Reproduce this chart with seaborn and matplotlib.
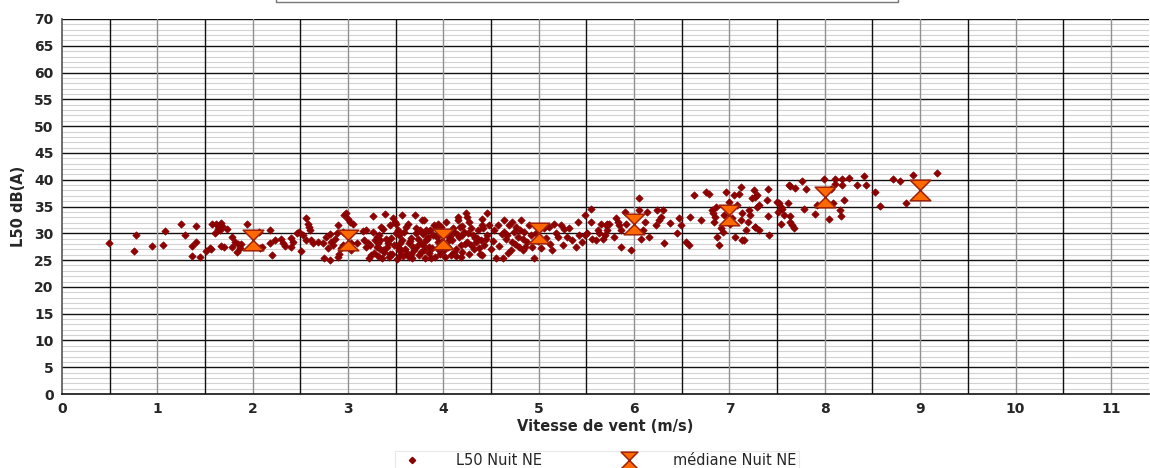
import numpy as np
import pandas as pd
import matplotlib
matplotlib.use("Agg")
import matplotlib.pyplot as plt
from matplotlib.path import Path
from matplotlib.patches import Rectangle
from matplotlib.lines import Line2D
import seaborn as sns

# ---- data: individual L50 measurements (wind speed m/s, L50 dB(A)) ----
wind_a = [0.49, 0.76, 0.78, 0.94, 1.06, 1.08, 1.25, 1.29, 1.41, 1.36, 1.41, 1.36, 1.45, 1.51, 1.55, 1.56,
          1.57, 1.61, 1.67, 1.60, 1.64, 1.66, 1.68, 1.73, 1.65, 1.67, 1.70, 1.78, 1.78, 1.81, 1.84, 1.85,
          1.88, 1.87, 1.94, 2.08]
l50_a = [28.1, 26.7, 29.7, 27.6, 27.8, 30.4, 31.8, 29.6, 31.4, 27.6, 28.3, 25.7, 25.6, 26.7, 27.3, 27.0,
         31.8, 31.8, 32.0, 30.0, 30.8, 30.6, 31.3, 30.8, 31.2, 27.7, 27.5, 29.4, 27.4, 28.4, 26.6, 28.0,
         28.0, 27.3, 31.8, 27.3]

wind_b = [2.07, 2.10, 2.18, 2.20, 2.18, 2.23, 2.30, 2.32, 2.34, 2.40, 2.40, 2.42, 2.46, 2.49, 2.51, 2.53,
          2.56, 2.58, 2.59, 2.56, 2.60, 2.61, 2.63, 2.68, 2.74, 2.75, 2.77, 2.79, 2.81, 2.81, 2.82, 2.84,
          2.86, 2.88, 2.89, 2.89, 2.91, 2.93, 2.95, 2.95, 2.96, 2.98, 3.00, 3.02, 3.05, 3.03, 3.03, 3.09,
          3.16, 3.19, 3.17, 3.21, 3.23, 3.19, 3.24, 3.26, 3.28, 3.30, 3.30, 3.31, 3.33, 3.35, 3.37, 3.39,
          3.40, 3.42, 3.44, 3.44, 3.47, 3.49, 3.50, 3.52, 3.50, 3.52, 3.54, 3.56, 3.57, 3.57, 3.61, 3.63,
          3.64, 3.64, 3.66, 3.68, 3.70, 3.71, 3.73, 3.75, 3.77, 3.78, 3.80, 3.82, 3.84]
l50_b = [30.2, 27.5, 30.6, 25.9, 28.1, 28.7, 29.0, 28.1, 27.7, 29.2, 27.5, 28.4, 30.0, 30.3, 26.7, 29.7,
         32.8, 31.8, 31.1, 28.7, 30.6, 28.7, 28.2, 28.4, 28.1, 25.3, 29.3, 27.2, 29.8, 25.0, 28.4, 27.8,
         29.0, 30.0, 31.5, 25.6, 26.2, 27.2, 30.3, 27.8, 33.4, 33.7, 32.6, 32.1, 31.8, 28.1, 26.9, 28.1,
         30.5, 30.6, 28.7, 28.1, 27.8, 27.5, 25.9, 33.2, 28.7, 29.4, 27.5, 28.1, 28.7, 31.2, 26.9, 33.6,
         29.0, 28.1, 26.2, 31.5, 32.8, 32.1, 31.8, 30.7, 30.0, 27.5, 25.9, 26.9, 28.7, 33.4, 31.2, 31.8,
         28.1, 25.6, 26.2, 27.5, 33.4, 30.0, 29.0, 30.6, 28.1, 32.5, 26.9, 28.7, 29.4]

wind_c = [3.22, 3.27, 3.31, 3.34, 3.36, 3.38, 3.41, 3.43, 3.46, 3.48, 3.51, 3.53, 3.55, 3.58, 3.60, 3.62,
          3.65, 3.67, 3.69, 3.72, 3.74, 3.76, 3.79, 3.81, 3.85, 3.88, 3.91, 3.95, 3.98, 4.02, 4.05, 4.09,
          4.13, 4.16, 4.20, 4.23, 4.27, 4.33, 4.37, 4.41, 3.26, 3.32, 3.37, 3.45, 3.53, 3.59, 3.66, 3.71,
          3.79, 3.86, 3.93, 4.00, 4.07, 4.14, 4.19, 4.26, 4.35, 4.40]
l50_c = [25.4, 26.4, 25.8, 27.0, 25.3, 26.6, 27.4, 25.6, 26.1, 27.9, 25.2, 26.8, 28.2, 25.7, 27.1, 26.4,
         28.5, 25.3, 26.9, 27.6, 25.9, 26.6, 27.9, 25.4, 26.3, 27.2, 25.6, 26.9, 28.3, 25.6, 27.4, 28.8,
         25.8, 29.3, 26.6, 28.0, 26.2, 29.1, 27.3, 25.9, 30.2, 29.6, 30.8, 29.2, 29.7, 30.3, 29.1, 31.0,
         29.8, 30.7, 29.3, 30.1, 29.5, 29.9, 31.3, 30.1, 29.2, 31.6]

wind_d = [3.80, 3.82, 3.83, 3.85, 3.87, 3.89, 3.90, 3.92, 3.94, 3.96, 3.97, 3.94, 3.96, 3.99, 4.01, 4.03,
          4.04, 4.06, 4.08, 4.10, 4.11, 4.11, 4.13, 4.15, 4.15, 4.17, 4.18, 4.18, 4.20, 4.22, 4.24, 4.25,
          4.25, 4.27, 4.29, 4.29, 4.31, 4.32, 4.34, 4.36, 4.38, 4.39, 4.41, 4.42, 4.43, 4.45, 4.46, 4.46,
          4.48, 4.50, 4.53, 4.55, 4.57, 4.62, 4.64, 4.64, 4.66, 4.67, 4.69, 4.71, 4.72, 4.72, 4.74, 4.76,
          4.78, 4.79, 4.81, 4.83, 4.85, 4.86, 4.88, 4.92, 4.93, 4.95, 4.97, 5.06, 5.11, 5.14, 5.16, 5.20,
          5.23, 5.25, 5.30, 5.32, 5.39, 5.41, 5.42, 5.48, 5.49, 5.51, 5.55, 5.56,
          4.52, 4.58, 4.61, 4.68, 4.75, 4.80, 4.84, 4.90, 4.99, 5.02, 5.08, 5.12, 5.18, 5.26, 5.35, 5.45]
l50_d = [32.4, 30.6, 29.0, 27.5, 25.3, 29.6, 31.5, 30.9, 31.8, 30.3, 31.2, 28.4, 26.2, 27.8, 26.8, 32.1,
         29.6, 28.7, 25.9, 30.9, 30.3, 26.5, 27.1, 33.1, 32.4, 31.2, 27.8, 25.6, 29.6, 30.3, 33.7, 33.1,
         28.4, 32.1, 27.8, 30.9, 29.6, 27.1, 28.4, 30.6, 26.2, 28.7, 32.7, 30.9, 27.8, 29.0, 33.7, 29.6,
         31.5, 27.1, 30.6, 25.3, 31.5, 25.3, 32.4, 30.3, 29.0, 29.6, 31.5, 26.8, 32.1, 28.4, 30.3, 31.2,
         29.3, 27.5, 32.4, 29.0, 30.3, 27.5, 28.4, 29.6, 27.5, 25.3, 30.0, 30.9, 31.2, 26.8, 31.8, 29.3,
         31.5, 27.8, 29.3, 30.9, 27.5, 32.1, 29.6, 33.4, 29.6, 30.0, 34.6, 29.0,
         28.6, 27.7, 29.9, 26.3, 28.0, 30.6, 26.9, 31.6, 28.6, 27.3, 29.1, 28.0, 30.1, 30.8, 28.7, 28.3]

wind_e = [5.55, 5.60, 5.62, 5.63, 5.65, 5.67, 5.69, 5.70, 5.72, 5.72, 5.74, 5.79, 5.81, 5.83, 5.84, 5.86,
          5.86, 5.90, 5.91, 5.97, 5.98, 6.05, 6.05, 6.07, 6.09, 6.11, 6.14, 6.16, 6.23, 6.24, 6.26, 6.28,
          6.30, 6.31, 6.38, 6.45, 6.47, 6.49, 6.54, 6.58, 6.59, 6.63, 6.70, 6.75, 6.79, 6.82, 6.83, 6.84,
          6.85, 6.86, 6.87, 6.89, 6.91, 6.93, 6.94, 6.96, 6.99, 7.01, 7.03, 7.05, 7.06, 7.08, 7.10, 7.12,
          7.12, 7.13, 7.13, 7.15, 7.17, 7.19, 7.20, 7.22, 7.24, 7.26, 7.27, 7.29]
l50_e = [32.2, 28.7, 30.6, 30.0, 31.8, 29.0, 29.7, 31.5, 31.8, 30.6, 31.8, 29.4, 32.8, 32.2, 31.5, 30.6,
         27.5, 34.0, 31.8, 26.9, 32.8, 36.5, 34.3, 29.0, 30.6, 32.2, 34.0, 29.4, 31.5, 34.3, 32.5, 33.1,
         34.3, 28.1, 32.0, 30.0, 32.8, 31.5, 28.4, 27.8, 33.1, 37.1, 32.5, 37.8, 37.4, 34.3, 33.7, 32.2,
         33.1, 35.0, 29.4, 27.8, 30.9, 30.3, 33.4, 37.8, 35.9, 31.8, 32.8, 37.1, 29.4, 35.3, 37.4, 38.7,
         32.5, 33.7, 28.7, 28.7, 30.6, 32.2, 34.3, 33.4, 36.5, 38.1, 31.2, 35.0]

wind_f = [7.27, 7.29, 7.31, 7.27, 7.31, 7.40, 7.39, 7.40, 7.41, 7.50, 7.51, 7.52, 7.54, 7.55, 7.54, 7.57,
          7.61, 7.62, 7.64, 7.64, 7.64, 7.66, 7.68, 7.69, 7.76, 7.78, 7.80, 7.90, 7.92, 7.99, 8.04, 8.06,
          8.09, 8.11, 8.11, 8.16, 8.17, 8.18, 8.18, 8.20, 8.25, 8.34, 8.41, 8.43, 8.53, 8.58, 8.71, 8.79,
          8.85, 8.93, 9.18]
l50_f = [36.8, 37.1, 35.3, 31.2, 30.6, 38.2, 36.3, 33.2, 29.7, 35.9, 34.0, 35.6, 35.0, 34.5, 31.8, 33.4,
         35.7, 39.0, 38.8, 33.2, 32.2, 31.5, 30.9, 38.4, 39.8, 34.6, 38.2, 33.6, 35.3, 40.2, 32.6, 38.2,
         35.7, 40.1, 39.2, 34.3, 33.2, 40.2, 39.0, 36.2, 40.4, 39.0, 40.7, 39.0, 37.8, 35.1, 40.1, 39.7,
         35.6, 40.9, 41.3]

# ---- medians per wind speed bin ----
median_wind = [2, 3, 4, 5, 6, 7, 8, 9]
median_l50 = [28.7, 28.7, 29.0, 30.0, 31.7, 33.4, 36.8, 38.1]

x_ticks = list(range(0, 12))
y_ticks = list(range(0, 75, 5))

points = pd.DataFrame({
    "wind": wind_a + wind_b + wind_c + wind_d + wind_e + wind_f,
    "l50": l50_a + l50_b + l50_c + l50_d + l50_e + l50_f,
})
medians = pd.DataFrame({"wind": median_wind, "l50": median_l50})

sns.set_style("white")
plt.rcParams["font.family"] = ["DejaVu Sans"]

fig = plt.figure(figsize=(11.5, 4.68), dpi=100)
ax = fig.add_axes([62 / 1150, 1 - 394 / 468, (1149 - 62) / 1150, (394 - 19) / 468])

# grid
for v in np.arange(0, 71, 1):
    if v % 5 != 0:
        ax.axhline(v, color="#d2d2d2", lw=0.8, zorder=0)
for v in range(5, 71, 5):
    ax.axhline(v, color="#111111", lw=1.0, zorder=0.5)
for v in range(1, 12):
    ax.axvline(v, color="#909090", lw=1.0, zorder=0.6)
for v in np.arange(0.5, 11.5, 1.0):
    ax.axvline(v, color="#111111", lw=1.0, zorder=0.7)

hourglass = Path([(-1, 1), (1, 1), (-1, -1), (1, -1), (-1, 1)],
                 [Path.MOVETO, Path.LINETO, Path.LINETO, Path.LINETO, Path.CLOSEPOLY])

sns.scatterplot(data=points, x="wind", y="l50", ax=ax, marker="D", s=14,
                color="#8b0000", edgecolor="#8b0000", linewidth=0.5, zorder=3, legend=False)
sns.scatterplot(data=medians, x="wind", y="l50", ax=ax, marker=hourglass, s=220,
                color="#ff6a00", edgecolor="#a0200a", linewidth=1.1, zorder=4, legend=False)

ax.set_xlim(0, 11.4)
ax.set_ylim(0, 70)
ax.set_xticks(x_ticks)
ax.set_yticks(y_ticks)
ax.set_xticklabels([str(t) for t in x_ticks], fontweight="bold", fontsize=10)
ax.set_yticklabels([str(t) for t in y_ticks], fontweight="bold", fontsize=10)
ax.tick_params(axis="both", length=4, width=1, color="#333333", pad=2, direction="out")
ax.set_xlabel("Vitesse de vent (m/s)", fontweight="bold", fontsize=10.5, labelpad=2)
ax.set_ylabel("L50 dB(A)", fontweight="bold", fontsize=10.5, labelpad=6)

for side in ["top", "right"]:
    ax.spines[side].set_visible(False)
ax.spines["left"].set_color("#555555")
ax.spines["bottom"].set_color("#111111")
ax.spines["left"].set_linewidth(1.2)
ax.spines["bottom"].set_linewidth(1.2)

handles = [
    Line2D([], [], marker="D", linestyle="none", markersize=3.2, color="#8b0000"),
    Line2D([], [], marker=hourglass, linestyle="none", markersize=12,
           markerfacecolor="#ff6a00", markeredgecolor="#a0200a", markeredgewidth=1.1),
]
leg = fig.legend(handles, ["L50 Nuit NE", "médiane Nuit NE"], loc="upper center",
                 bbox_to_anchor=(597 / 1150, 1 - 444 / 468), ncol=2, frameon=True,
                 fancybox=False, edgecolor="#e4e4e4", fontsize=10.5, handlelength=2.0,
                 handletextpad=2.0, columnspacing=5.0, borderpad=0.15)
leg.get_frame().set_linewidth(0.8)

fig.add_artist(Rectangle((276 / 1150, 1 - 2 / 468), (898 - 276) / 1150, 0.2,
                         transform=fig.transFigure, fill=False, edgecolor="#777777",
                         lw=1.0, clip_on=False))

fig.savefig("out.png", dpi=100, facecolor="white")
